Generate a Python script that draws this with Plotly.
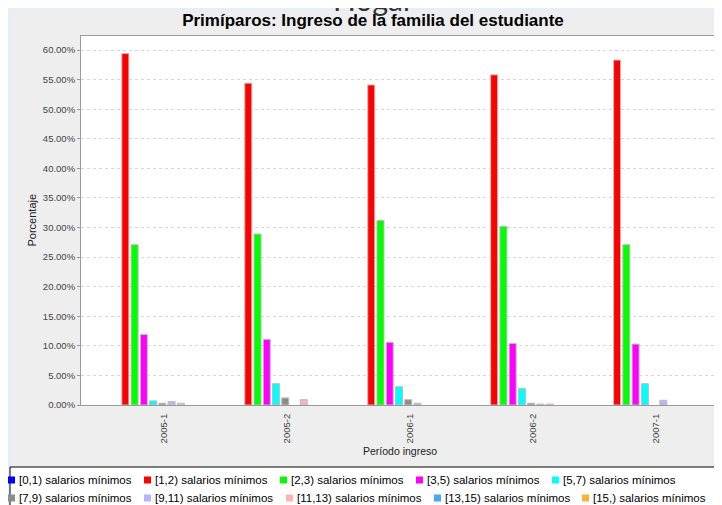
import plotly.graph_objects as go

# ---------------- data ----------------
periods = ["2005-1", "2005-2", "2006-1", "2006-2", "2007-1"]
series_names = [
    "[0,1) salarios mínimos", "[1,2) salarios mínimos", "[2,3) salarios mínimos",
    "[3,5) salarios mínimos", "[5,7) salarios mínimos", "[7,9) salarios mínimos",
    "[9,11) salarios mínimos", "[11,13) salarios mínimos", "[13,15) salarios mínimos",
    "[15,) salarios mínimos",
]
s_0_1 = [0.0, 0.0, 0.0, 0.0, 0.0]
s_1_2 = [59.4, 54.4, 54.1, 55.8, 58.3]
s_2_3 = [27.1, 28.9, 31.2, 30.2, 27.1]
s_3_5 = [11.9, 11.1, 10.6, 10.4, 10.3]
s_5_7 = [0.7, 3.6, 3.1, 2.8, 3.6]
s_7_9 = [0.3, 1.2, 0.9, 0.3, 0.0]
s_9_11 = [0.6, 0.0, 0.3, 0.15, 0.8]
s_11_13 = [0.3, 0.9, 0.0, 0.15, 0.0]
s_13_15 = [0.0, 0.0, 0.0, 0.0, 0.0]
s_15 = [0.0, 0.0, 0.0, 0.0, 0.0]
series_values = [s_0_1, s_1_2, s_2_3, s_3_5, s_5_7, s_7_9, s_9_11, s_11_13, s_13_15, s_15]
colors = ["#0000FF", "#FF0000", "#00FF00", "#FF00FF", "#00FFFF",
          "#8C8C8C", "#B4B4FF", "#FFB4B4", "#4AA8F0", "#FFB040"]
y_ticks = [0, 5, 10, 15, 20, 25, 30, 35, 40, 45, 50, 55, 60]
y_tick_text = ["%.2f%%" % v for v in y_ticks]

# ---------------- geometry helpers (screen pixels) ----------------
OFF = 8                     # page body margin
W, H = 722 - OFF, 505 - OFF  # figure size so that it fills the window
PL, PR, PT, PB = 81, 722, 36, 405  # plot area in screen pixels


def px(X):
    return (X - PL) / (PR - PL)


def py(Y):
    return (PB - Y) / (PB - PT)


FONT = "Liberation Sans, Arial, Helvetica, sans-serif"

fig = go.Figure()
for name, vals, col in zip(series_names, series_values, colors):
    fig.add_trace(go.Bar(
        x=periods, y=vals, name=name, showlegend=False,
        marker=dict(color=col,
                    line=dict(color="#BDBDBD", width=[1 if v > 0 else 0 for v in vals])),
        hovertemplate="%{x}: %{y:.2f}%<extra>" + name + "</extra>",
    ))

shapes = [
    # chart panel
    dict(type="rect", xref="paper", yref="paper", layer="below",
         x0=px(12), x1=px(740), y0=py(13), y1=py(520),
         fillcolor="#EEEEEE", line=dict(width=0)),
    # plot area
    dict(type="rect", xref="paper", yref="paper", layer="below",
         x0=0, x1=1, y0=0, y1=1, fillcolor="#FFFFFF", line=dict(width=0)),
    # legend box
    dict(type="rect", xref="paper", yref="paper", layer="above",
         x0=px(10), x1=px(740), y0=py(467), y1=py(520),
         fillcolor="#FFFFFF", line=dict(color="#000000", width=1)),
]

annotations = [
    dict(text="Hogar", x=px(373), y=py(-1), xref="paper", yref="paper",
         xanchor="center", yanchor="middle", showarrow=False,
         font=dict(family="Lato, DejaVu Sans, sans-serif", size=30, color="#333333")),
    dict(text="Porcentaje", x=px(31), y=0.5, xref="paper", yref="paper",
         xanchor="center", yanchor="middle", textangle=-90, showarrow=False,
         font=dict(family=FONT, size=11, color="#222222")),
    dict(text="Período ingreso", x=px(400), y=py(451), xref="paper", yref="paper",
         xanchor="center", yanchor="middle", showarrow=False,
         font=dict(family=FONT, size=10.5, color="#222222")),
]

# manual legend (two rows)
legend_sq_x = [8, 144, 280, 416, 552, 8, 144, 286, 434, 582]
legend_row_y = [480, 480, 480, 480, 480, 498, 498, 498, 498, 498]
for name, col, sx, sy in zip(series_names, colors, legend_sq_x, legend_row_y):
    shapes.append(dict(type="rect", xref="paper", yref="paper", layer="above",
                       x0=px(sx), x1=px(sx + 7), y0=py(sy - 3.5), y1=py(sy + 3.5),
                       fillcolor=col, line=dict(width=0)))
    annotations.append(dict(text=name, x=px(sx + 9), y=py(sy), xref="paper", yref="paper",
                            xanchor="left", yanchor="middle", showarrow=False,
                            font=dict(family=FONT, size=11.5, color="#000000")))

fig.update_layout(
    width=W, height=H,
    margin=dict(l=PL - OFF, r=W - (PR - OFF), t=PT - OFF, b=H - (PB - OFF), pad=0),
    paper_bgcolor="#E8EEF4",
    plot_bgcolor="rgba(0,0,0,0)",
    barmode="group", bargap=0.248, bargroupgap=0.24,
    title=dict(text="<b>Primíparos: Ingreso de la familia del estudiante</b>",
               x=(373 - OFF) / W, xref="container", xanchor="center",
               y=1 - (20 - OFF) / H, yref="container", yanchor="middle",
               font=dict(family=FONT, size=17, color="#000000")),
    xaxis=dict(type="category", range=[-0.624, 4.59], showgrid=False,
               showline=True, linecolor="#9A9A9A", linewidth=1, mirror=True,
               tickangle=-90, ticks="", ticklabelshift=6, ticklabelstandoff=4,
               tickfont=dict(family=FONT, size=9.5, color="#444444")),
    yaxis=dict(range=[0, 62.37], tickvals=y_ticks, ticktext=y_tick_text,
               showgrid=True, gridcolor="#D6D6D6", griddash="3px,3px", gridwidth=1,
               showline=True, linecolor="#9A9A9A", linewidth=1, mirror=True,
               ticks="outside", ticklen=3, tickcolor="#9A9A9A", zeroline=False,
               automargin=False,
               tickfont=dict(family=FONT, size=9.5, color="#444444")),
    shapes=shapes, annotations=annotations,
)

fig.write_html("out.html")
